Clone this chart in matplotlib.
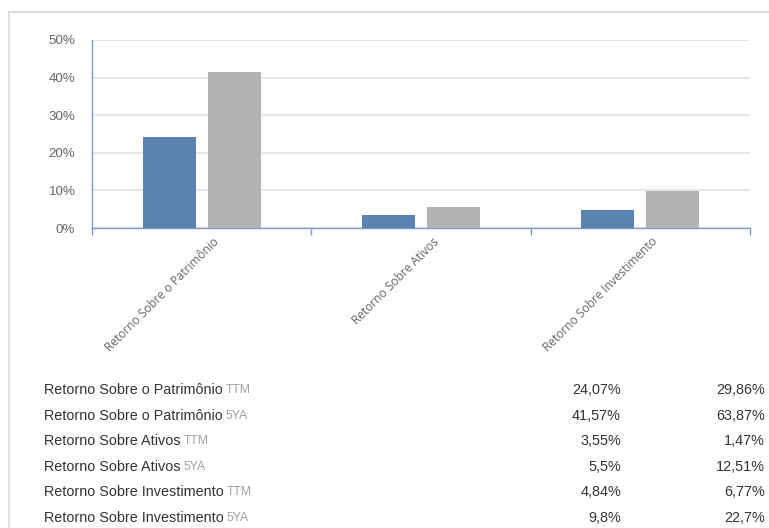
import matplotlib
matplotlib.use("Agg")
import matplotlib.pyplot as plt
import numpy as np

categories = ["Retorno Sobre o Patrimônio", "Retorno Sobre Ativos", "Retorno Sobre Investimento"]
ttm_values = [24.07, 3.55, 4.84]
fiveya_values = [41.57, 5.5, 9.8]
industry_ttm = ["29,86%", "1,47%", "6,77%"]
industry_5ya = ["63,87%", "12,51%", "22,7%"]
company_ttm_labels = ["24,07%", "3,55%", "4,84%"]
company_5ya_labels = ["41,57%", "5,5%", "9,8%"]
yticks = [0, 10, 20, 30, 40, 50]
ytick_labels = ["0%", "10%", "20%", "30%", "40%", "50%"]

W, H = 769, 528
fig = plt.figure(figsize=(W / 100, H / 100), dpi=100)
fig.patch.set_facecolor("white")

# panel border (top and left)
fig.add_artist(plt.Line2D([9 / W, 1], [1 - 12 / H, 1 - 12 / H], color="#d9d9d9", lw=1.2))
fig.add_artist(plt.Line2D([9 / W, 9 / W], [0, 1 - 12 / H], color="#d9d9d9", lw=1.2))

ax = fig.add_axes([92 / W, 1 - 228 / H, (750 - 92) / W, (228 - 40) / H])
axis_col = "#7f9cc8"
blue = "#5b82b1"
grey = "#b3b3b3"

x = np.arange(len(categories))
bw = 0.242
off = 0.148
ax.bar(x - off, ttm_values, width=bw, color=blue, zorder=3)
ax.bar(x + off, fiveya_values, width=bw, color=grey, zorder=3)

ax.set_xlim(-0.5, len(categories) - 0.5)
ax.set_ylim(0, 50)
ax.set_yticks(yticks)
ax.set_yticklabels(ytick_labels, fontsize=9.6, color="#666666", family="Liberation Sans")
ax.tick_params(axis="y", length=0, pad=12)
ax.yaxis.grid(True, color="#e6e6e6", lw=1.5, zorder=0)
ax.set_axisbelow(True)

ax.set_xticks(np.arange(-0.5, len(categories), 1.0))
ax.set_xticklabels([])
ax.tick_params(axis="x", length=5, color=axis_col, width=1, direction="out")

for s in ["top", "right"]:
    ax.spines[s].set_visible(False)
ax.spines["left"].set_color(axis_col)
ax.spines["bottom"].set_color(axis_col)
ax.spines["left"].set_linewidth(1)
ax.spines["bottom"].set_linewidth(1)

for i, c in enumerate(categories):
    ax.annotate(c, xy=(i, 0), xycoords="data", xytext=(11, -7), textcoords="offset pixels",
                rotation=45, ha="right", va="top", rotation_mode="anchor",
                fontsize=8.6, color="#666666", family="Open Sans", annotation_clip=False)

# table
rows = []
for i, c in enumerate(categories):
    rows.append((c, "TTM", company_ttm_labels[i], industry_ttm[i]))
    rows.append((c, "5YA", company_5ya_labels[i], industry_5ya[i]))

row_y = [390, 415.6, 441.2, 466.8, 492.4, 518]
for (name, suffix, v1, v2), yy in zip(rows, row_y):
    fy = 1 - yy / H
    t = fig.text(44 / W, fy, name, fontsize=10.4, color="#333333", family="Liberation Sans",
                 ha="left", va="center")
    ann = plt.Annotation(suffix, xy=(1, 0), xycoords=t, xytext=(3, 1),
                         textcoords="offset pixels", fontsize=8.8, color="#a0a0a0",
                         family="Liberation Sans", ha="left", va="bottom")
    fig.add_artist(ann)
    fig.text(621 / W, fy, v1, fontsize=10.4, color="#333333", family="Liberation Sans",
             ha="right", va="center")
    fig.text(765 / W, fy, v2, fontsize=10.4, color="#333333", family="Liberation Sans",
             ha="right", va="center")

fig.savefig("out.png", dpi=100)
